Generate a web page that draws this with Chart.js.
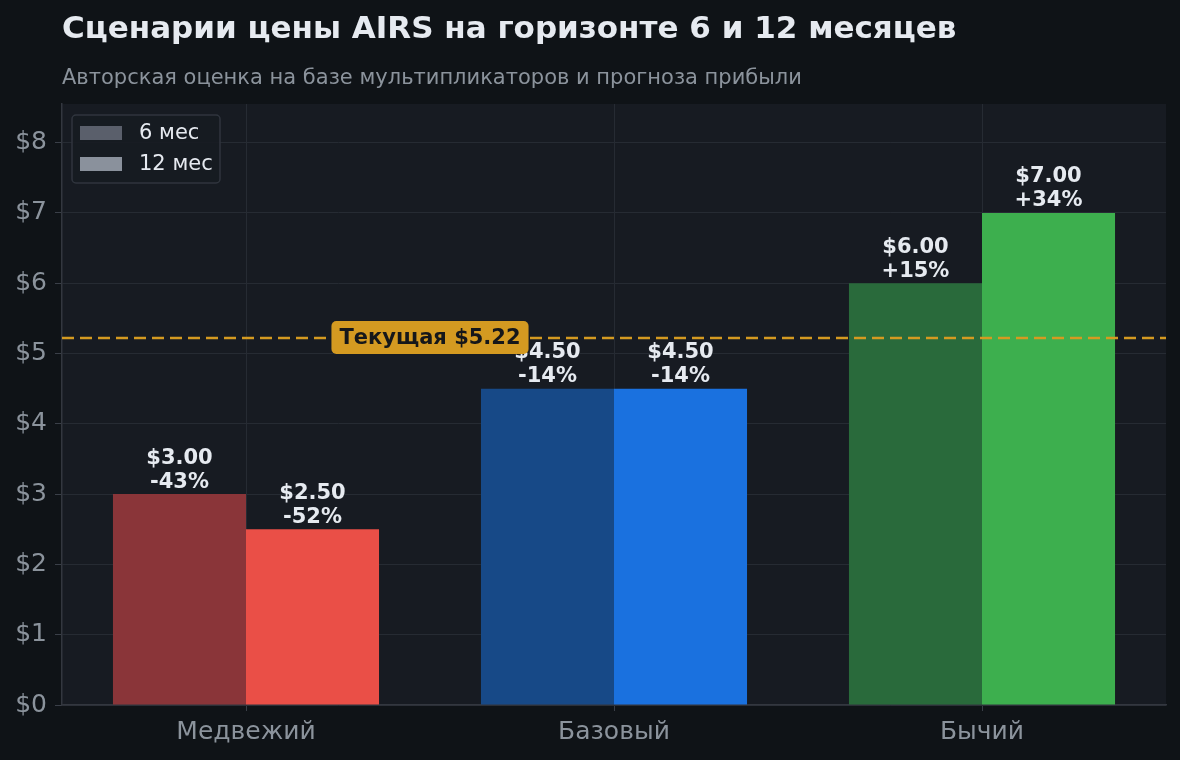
<!DOCTYPE html>
<html>
<head>
<meta charset="utf-8">
<script src="https://cdn.jsdelivr.net/npm/chart.js@4.4.1/dist/chart.umd.min.js"></script>
<style>
  html, body { margin: 0; padding: 0; background: #0F1317; }
  #wrap { width: 1180px; height: 760px; position: relative; }
</style>
</head>
<body>
<div id="wrap"><canvas id="scenarioChart"></canvas></div>
<script>
// data
const scenarios = ['Медвежий', 'Базовый', 'Бычий'];
const price6m = [3.00, 4.50, 6.00];
const price12m = [2.50, 4.50, 7.00];
const currentPrice = 5.22;
const yMax = 8.55;
const seriesLabels = ['6 мес', '12 мес'];

const FONT = '"DejaVu Sans", sans-serif';
const TEXT = '#E6EAF0';
const MUTED = '#8B939C';
const GRID = '#262B33';
const GOLD = '#D49A21';

const colors6m = ['#8A3539', '#174987', '#296A3B'];
const colors12m = ['#EA4F47', '#1A71DF', '#3DAF4E'];
const legendSwatch = ['#5A5F6B', '#8A919C'];

const fmtPrice = v => '$' + v.toFixed(2);
const fmtPct = v => {
  const p = Math.round((v / currentPrice - 1) * 100);
  return (p > 0 ? '+' : '') + p + '%';
};

// title, subtitle, plot background
const frame = {
  id: 'frame',
  beforeDraw(chart) {
    const { ctx, chartArea: a } = chart;
    ctx.save();
    ctx.fillStyle = '#171B22';
    ctx.fillRect(a.left, a.top, a.right - a.left, a.bottom - a.top);
    ctx.textBaseline = 'middle';
    ctx.textAlign = 'left';
    ctx.fillStyle = TEXT;
    ctx.font = 'bold 31px ' + FONT;
    ctx.fillText('Сценарии цены AIRS на горизонте 6 и 12 месяцев', a.left, 30);
    ctx.fillStyle = MUTED;
    ctx.font = '21px ' + FONT;
    ctx.fillText('Авторская оценка на базе мультипликаторов и прогноза прибыли', a.left, 79);
    ctx.restore();
  }
};

// price + % change above each bar
const barLabels = {
  id: 'barLabels',
  afterDatasetsDraw(chart) {
    const { ctx } = chart;
    ctx.save();
    ctx.font = 'bold 21px ' + FONT;
    ctx.fillStyle = TEXT;
    ctx.textAlign = 'center';
    ctx.textBaseline = 'middle';
    chart.data.datasets.forEach((ds, i) => {
      chart.getDatasetMeta(i).data.forEach((bar, j) => {
        const v = ds.data[j];
        ctx.fillText(fmtPrice(v), bar.x, bar.y - 36);
        ctx.fillText(fmtPct(v), bar.x, bar.y - 12);
      });
    });
    ctx.restore();
  }
};

// current price line + tag, then legend box
const overlay = {
  id: 'overlay',
  afterDraw(chart) {
    const { ctx, chartArea: a, scales: { x, y } } = chart;
    const yp = y.getPixelForValue(currentPrice);
    ctx.save();
    ctx.strokeStyle = GOLD;
    ctx.lineWidth = 2.5;
    ctx.setLineDash([12, 6]);
    ctx.beginPath();
    ctx.moveTo(a.left, yp);
    ctx.lineTo(a.right, yp);
    ctx.stroke();
    ctx.setLineDash([]);

    const tag = 'Текущая ' + fmtPrice(currentPrice);
    ctx.font = 'bold 21px ' + FONT;
    const cx = x.getPixelForValue(0.5);
    const w = ctx.measureText(tag).width + 16;
    ctx.fillStyle = GOLD;
    ctx.beginPath();
    ctx.roundRect(cx - w / 2, yp - 17, w, 33, 5);
    ctx.fill();
    ctx.fillStyle = '#15171A';
    ctx.textAlign = 'center';
    ctx.textBaseline = 'middle';
    ctx.fillText(tag, cx, yp);

    // legend
    const lx = a.left + 10, ly = a.top + 11;
    ctx.fillStyle = 'rgba(23,27,34,0.92)';
    ctx.strokeStyle = '#30353E';
    ctx.lineWidth = 1.5;
    ctx.beginPath();
    ctx.roundRect(lx, ly, 148, 68, 4);
    ctx.fill();
    ctx.stroke();
    ctx.font = '21px ' + FONT;
    ctx.textAlign = 'left';
    seriesLabels.forEach((lab, i) => {
      const ry = ly + 18 + i * 31;
      ctx.fillStyle = legendSwatch[i];
      ctx.fillRect(lx + 8, ry - 7, 42, 14);
      ctx.fillStyle = TEXT;
      ctx.fillText(lab, lx + 67, ry + 1);
    });
    ctx.restore();
  }
};

new Chart(document.getElementById('scenarioChart'), {
  type: 'bar',
  data: {
    labels: scenarios,
    datasets: [
      { label: seriesLabels[0], data: price6m, backgroundColor: colors6m, borderWidth: 0 },
      { label: seriesLabels[1], data: price12m, backgroundColor: colors12m, borderWidth: 0 },
    ],
  },
  options: {
    responsive: true,
    maintainAspectRatio: false,
    animation: false,
    devicePixelRatio: 1,
    layout: { padding: { top: 104, right: 14, left: 0, bottom: 0 } },
    datasets: { bar: { categoryPercentage: 0.723, barPercentage: 1 } },
    plugins: { legend: { display: false }, tooltip: { enabled: false } },
    scales: {
      x: {
        afterFit: s => { s.height = 55; },
        grid: { offset: false, color: GRID, tickColor: '#3A3F48', tickLength: 6, lineWidth: 1 },
        border: { color: '#33373F', width: 1.5 },
        ticks: { color: MUTED, font: { family: FONT, size: 25 }, padding: 6 },
      },
      y: {
        min: 0,
        max: yMax,
        afterFit: s => { s.width = 62; },
        afterBuildTicks: s => { s.ticks = s.ticks.filter(t => Number.isInteger(t.value)); },
        grid: { color: GRID, tickColor: '#3A3F48', tickLength: 7, lineWidth: 1 },
        border: { color: '#33373F', width: 1.5 },
        ticks: {
          stepSize: 1,
          color: MUTED,
          padding: 8,
          font: { family: FONT, size: 25 },
          callback: v => '$' + v,
        },
      },
    },
  },
  plugins: [frame, barLabels, overlay],
});
</script>
</body>
</html>
